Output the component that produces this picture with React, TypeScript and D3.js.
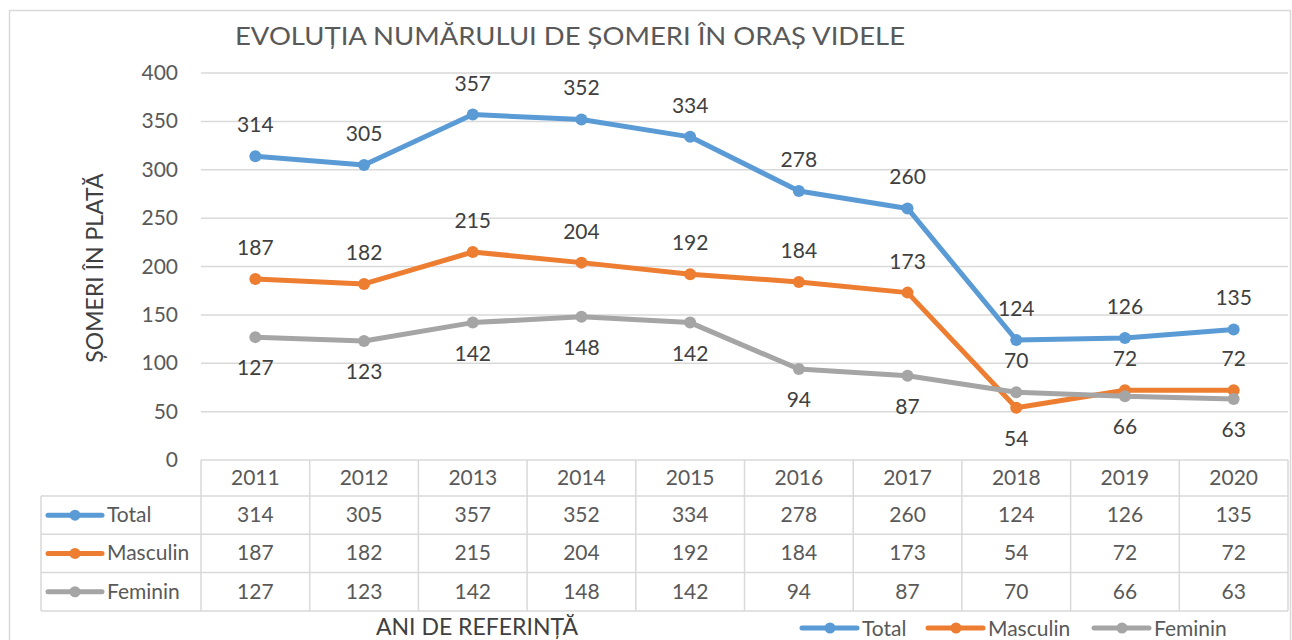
import React from 'react'
import * as d3 from 'd3'

const years = ['2011', '2012', '2013', '2014', '2015', '2016', '2017', '2018', '2019', '2020']
const total = [314, 305, 357, 352, 334, 278, 260, 124, 126, 135]
const masculin = [187, 182, 215, 204, 192, 184, 173, 54, 72, 72]
const feminin = [127, 123, 142, 148, 142, 94, 87, 70, 66, 63]
const yTicks = [0, 50, 100, 150, 200, 250, 300, 350, 400]

const W = 1292
const H = 640
const FONT = 'Lato, "Open Sans", sans-serif'
const TXT = '#595959'
const GRID = '#d9d9d9'
const FS = 21

const plotLeft = 201
const plotRight = 1288
const plotTop = 73
const plotBottom = 460
const rowH = 38.3
const headerH = 36
const tableLeft = 41

export default function App() {
  const x = d3.scaleBand().domain(years).range([plotLeft, plotRight])
  const y = d3.scaleLinear().domain([0, 400]).range([plotBottom, plotTop])
  const cx = (i: number) => (x(years[i]) as number) + x.bandwidth() / 2

  const series = [
    { name: 'Total', color: '#5b9bd5', values: total },
    { name: 'Masculin', color: '#ed7d31', values: masculin },
    { name: 'Feminin', color: '#a5a5a5', values: feminin },
  ]

  const line = d3
    .line<number>()
    .x((_, i) => cx(i))
    .y((d) => y(d))

  // label goes above unless the series sits lowest among the two sub-series at that year
  const above = (si: number, i: number) => {
    if (si === 0) return true
    if (si === 1) return masculin[i] >= feminin[i]
    return feminin[i] > masculin[i]
  }

  const tableRowY = (r: number) => plotBottom + headerH + r * rowH
  const tableBottom = tableRowY(3)
  const legendItems = [
    { s: series[0], x0: 802 },
    { s: series[1], x0: 928 },
    { s: series[2], x0: 1094 },
  ]

  return (
    <svg
      width={W}
      height={H}
      style={{ position: 'fixed', left: 0, top: 0, background: '#fff', display: 'block' }}
      fontFamily={FONT}
    >
      <rect x={9.5} y={10.5} width={1281} height={700} fill="#fff" stroke={GRID} strokeWidth={1.5} />

      <text x={235} y={45} fontSize={25} fill={TXT} textLength={670} lengthAdjust="spacingAndGlyphs">
        EVOLUȚIA NUMĂRULUI DE ȘOMERI ÎN ORAȘ VIDELE
      </text>

      {/* gridlines + y ticks */}
      {yTicks.map((t) => (
        <g key={t}>
          {t > 0 && (
            <line x1={plotLeft} x2={plotRight} y1={y(t)} y2={y(t)} stroke={GRID} strokeWidth={1.5} />
          )}
          <text x={178} y={y(t) + 7} textAnchor="end" fontSize={FS} fill={TXT}>
            {t}
          </text>
        </g>
      ))}

      <text
        transform={`translate(103,268) rotate(-90)`}
        textAnchor="middle"
        fontSize={23}
        fill={'#404040'}
      >
        ȘOMERI ÎN PLATĂ
      </text>

      {/* lines */}
      {series.map((s) => (
        <g key={s.name}>
          <path d={line(s.values) || ''} fill="none" stroke={s.color} strokeWidth={5} strokeLinejoin="round" />
          {s.values.map((v, i) => (
            <circle key={i} cx={cx(i)} cy={y(v)} r={6} fill={s.color} />
          ))}
        </g>
      ))}

      {/* data labels */}
      {series.map((s, si) =>
        s.values.map((v, i) => (
          <text
            key={s.name + i}
            x={cx(i)}
            y={above(si, i) ? y(v) - 24 : y(v) + 38}
            textAnchor="middle"
            fontSize={FS}
            fill="#404040"
          >
            {v}
          </text>
        ))
      )}

      {/* data table */}
      <g stroke={GRID} strokeWidth={1.5}>
        <line x1={plotLeft} x2={plotRight} y1={plotBottom} y2={plotBottom} />
        {[0, 1, 2, 3].map((r) => (
          <line key={r} x1={tableLeft} x2={plotRight} y1={tableRowY(r)} y2={tableRowY(r)} />
        ))}
        <line x1={tableLeft} x2={tableLeft} y1={tableRowY(0)} y2={tableBottom} />
        {years.map((yr) => (
          <line key={yr} x1={x(yr)} x2={x(yr)} y1={plotBottom} y2={tableBottom} />
        ))}
        <line x1={plotRight} x2={plotRight} y1={plotBottom} y2={tableBottom} />
      </g>
      {years.map((yr, i) => (
        <text key={yr} x={cx(i)} y={plotBottom + headerH / 2 + 7} textAnchor="middle" fontSize={FS} fill={TXT}>
          {yr}
        </text>
      ))}
      {series.map((s, si) => {
        const rc = tableRowY(si) + rowH / 2
        return (
          <g key={s.name}>
            <line x1={48} x2={102} y1={rc} y2={rc} stroke={s.color} strokeWidth={5} strokeLinecap="round" />
            <circle cx={75} cy={rc} r={5.5} fill={s.color} />
            <text x={107} y={rc + 7} fontSize={FS} fill={TXT}>
              {s.name}
            </text>
            {s.values.map((v, i) => (
              <text key={i} x={cx(i)} y={rc + 7} textAnchor="middle" fontSize={FS} fill={TXT}>
                {v}
              </text>
            ))}
          </g>
        )
      })}

      <text x={477} y={635} textAnchor="middle" fontSize={23} fill="#404040">
        ANI DE REFERINȚĂ
      </text>

      {/* legend */}
      {legendItems.map(({ s, x0 }) => (
        <g key={s.name}>
          <line x1={x0} x2={x0 + 55} y1={628} y2={628} stroke={s.color} strokeWidth={5} strokeLinecap="round" />
          <circle cx={x0 + 28} cy={628} r={5.5} fill={s.color} />
          <text x={x0 + 60} y={636} fontSize={FS} fill={TXT}>
            {s.name}
          </text>
        </g>
      ))}
    </svg>
  )
}
